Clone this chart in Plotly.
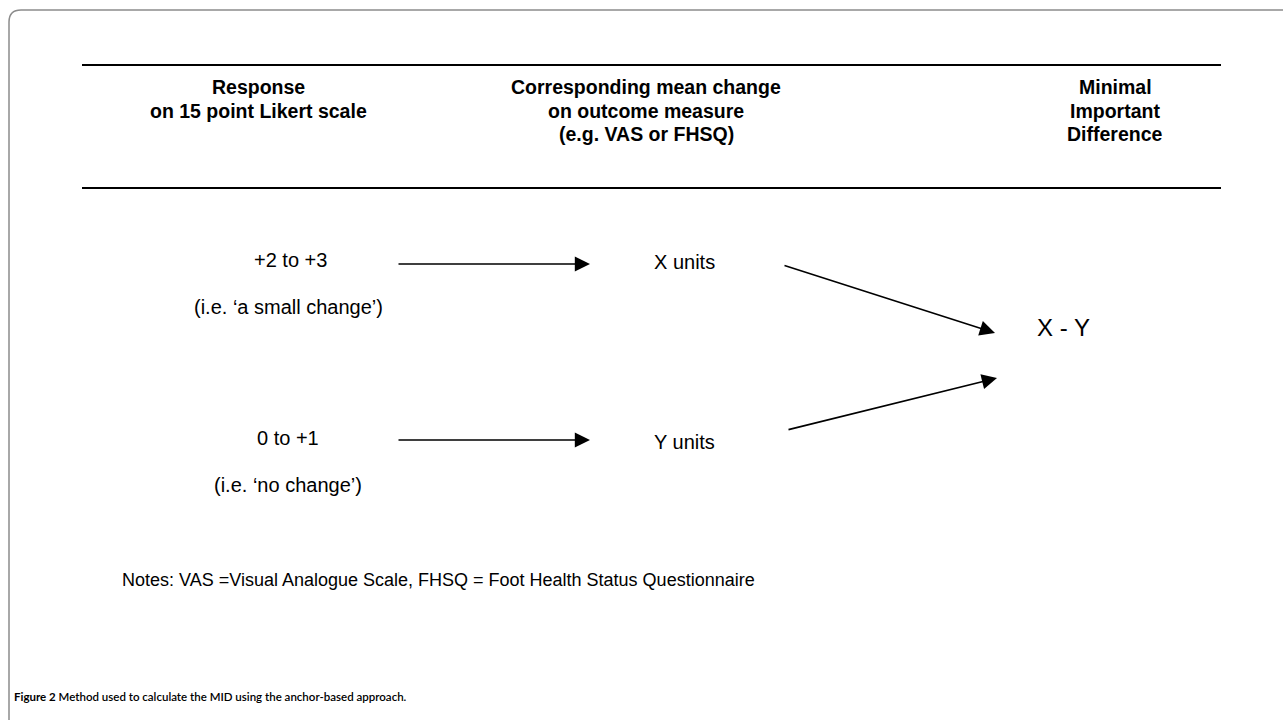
import plotly.graph_objects as go

W, H = 1283, 720

# ---- content ----
header_lines = [["Response", "on 15 point Likert scale"],
                ["Corresponding mean change", "on outcome measure", "(e.g. VAS or FHSQ)"],
                ["Minimal", "Important", "Difference"]]
header_x = [258, 646, 1115]
header_line_y = [87, 110.5, 134]

body_texts = ["+2 to +3", "(i.e. \u2018a small change\u2019)", "0 to +1", "(i.e. \u2018no change\u2019)",
              "X units", "Y units"]
body_x = [290, 288, 288, 288, 684, 684]
body_y = [260, 307, 438, 485, 262, 442]

result_text = "X - Y"
result_x, result_y = 1063, 327

arrow_x0 = [397, 397, 783, 787]
arrow_y0 = [264, 440, 265, 430]
arrow_x1 = [590, 590, 995, 997]
arrow_y1 = [264, 440, 333, 378]

rule_y = [65, 188]
rule_x = [82, 1221]

notes = "Notes: VAS =Visual Analogue Scale, FHSQ = Foot Health Status Questionnaire"
notes_x, notes_y = 120, 580

caption_bold = "Figure 2"
caption_rest = " Method used to calculate the MID using the anchor-based approach."
caption_x, caption_y = 12, 696

SANS = "Liberation Sans, Arial, sans-serif"

fig = go.Figure()
fig.add_trace(go.Scatter(x=[0, W], y=[0, H], mode="markers",
                         marker=dict(opacity=0), hoverinfo="skip", showlegend=False))

shapes = []
# rounded frame (top-left corner)
shapes.append(dict(type="path", xref="x", yref="y",
                   path=f"M 9 {H} L 9 22 Q 9 10 21 10 L {W} 10",
                   line=dict(color="#8c8c8c", width=1.5)))
for yy in rule_y:
    shapes.append(dict(type="line", xref="x", yref="y", x0=rule_x[0], x1=rule_x[1],
                       y0=yy, y1=yy, line=dict(color="black", width=2)))

ann = []
for lines, x in zip(header_lines, header_x):
    for t, y in zip(lines, header_line_y):
        ann.append(dict(x=x, y=y, xref="x", yref="y", text=f"<b>{t}</b>", showarrow=False,
                        xanchor="center", yanchor="middle", align="center",
                        font=dict(family=SANS, size=19.5, color="black")))
for t, x, y in zip(body_texts, body_x, body_y):
    ann.append(dict(x=x, y=y, xref="x", yref="y", text=t, showarrow=False,
                    xanchor="center", yanchor="middle",
                    font=dict(family=SANS, size=20, color="black")))
ann.append(dict(x=result_x, y=result_y, xref="x", yref="y", text=result_text, showarrow=False,
                xanchor="center", yanchor="middle",
                font=dict(family=SANS, size=24, color="black")))
for x0, y0, x1, y1 in zip(arrow_x0, arrow_y0, arrow_x1, arrow_y1):
    ann.append(dict(x=x1, y=y1, ax=x0, ay=y0, xref="x", yref="y", axref="x", ayref="y",
                    text="", showarrow=True, arrowhead=2, arrowsize=1.9, arrowwidth=1.6,
                    arrowcolor="black", standoff=0))
ann.append(dict(x=notes_x, y=notes_y, xref="x", yref="y", text=notes, showarrow=False,
                xanchor="left", yanchor="middle",
                font=dict(family=SANS, size=18, color="black")))
ann.append(dict(x=caption_x, y=caption_y, xref="x", yref="y",
                text=f"<b>{caption_bold}</b>{caption_rest}", showarrow=False,
                xanchor="left", yanchor="middle",
                font=dict(family="Lato, sans-serif", size=11.5,
                          color="black", weight=600)))

fig.update_layout(width=W, height=H, margin=dict(l=0, r=0, t=0, b=0),
                  paper_bgcolor="white", plot_bgcolor="white",
                  xaxis=dict(range=[0, W], visible=False, fixedrange=True),
                  yaxis=dict(range=[H, 0], visible=False, fixedrange=True),
                  shapes=shapes, annotations=ann, showlegend=False)

fig.write_html("out.html", config={"displayModeBar": False},
               post_script="document.body.style.margin='0px';document.body.style.padding='0px';")
